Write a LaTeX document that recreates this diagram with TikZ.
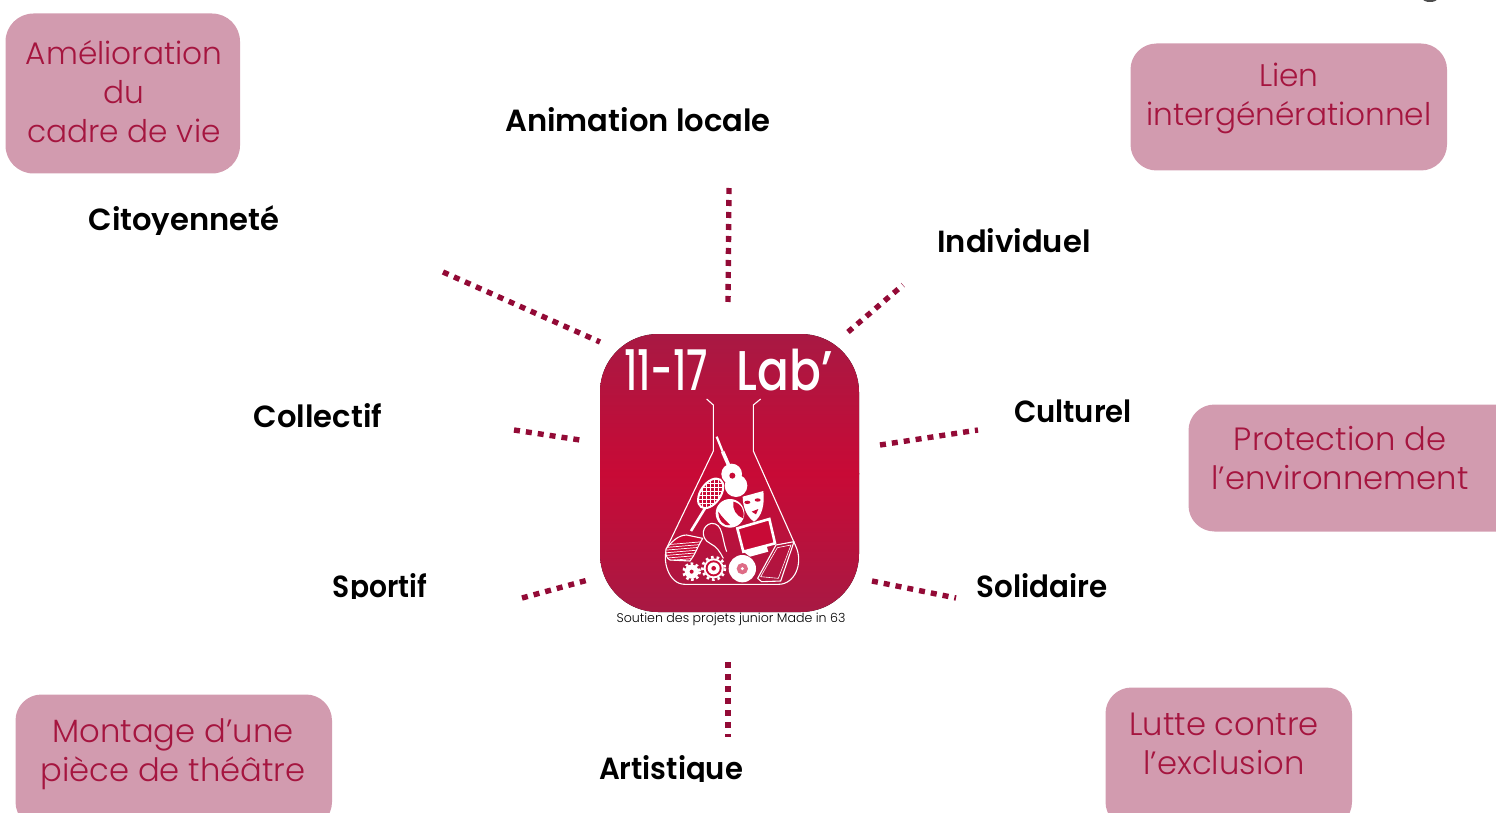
\documentclass[tikz,border=0pt]{standalone}
\usepackage{fontspec}
\setmainfont{Poppins}
\newfontfamily\boldf{Poppins}[UprightFont=* SemiBold]
\newfontfamily\lightf{Poppins}[UprightFont=* Light]
\newfontfamily\medf{Poppins}[UprightFont=* Medium]
\definecolor{pinkbox}{HTML}{D29BAF}
\definecolor{pinktxt}{HTML}{A5153F}
\definecolor{dotc}{HTML}{930A36}
\definecolor{logotop}{HTML}{A61A44}
\definecolor{logomid}{HTML}{C80A36}
\tikzset{
 x=0.5pt,y=-0.5pt,
 boxr/.style={fill=pinkbox,draw=none},
 boxt/.style={text=pinktxt,align=center,inner sep=0pt,font=\lightf\fontsize{15.6}{19.5}\selectfont},
 boxtb/.style={text=pinktxt,align=center,inner sep=0pt,font=\lightf\fontsize{16.1}{19.5}\selectfont},
 lab/.style={inner sep=0pt,anchor=base,font=\boldf\fontsize{15.3}{19}\selectfont},
 dots/.style={dotc,line width=2.7pt,dash pattern=on 3pt off 3pt},
 wl/.style={white,line width=0.55pt},
 wf/.style={fill=white,draw=none},
}
\begin{document}
\begin{tikzpicture}
\useasboundingbox (0,0) rectangle (1496,813);
\clip (0,0) rectangle (1496,813);
% boxes
\fill[boxr,rounded corners=14pt] (5.5,13.5) rectangle (240,173.5);
\fill[boxr,rounded corners=13pt] (1130.5,43.5) rectangle (1447,170.5);
\fill[boxr,rounded corners=13pt] (1188.5,404.5) rectangle (1540,531.5);
\fill[boxr,rounded corners=13pt] (15.5,694.5) rectangle (332,828);
\fill[boxr,rounded corners=13pt] (1105.5,687.5) rectangle (1352,828);
\node[boxt] (t1) at (124,92) {Amélioration\\du\\cadre de vie};
\node[boxt] (t2) at (1289,98) {Lien\\intergénérationnel};
\node[boxtb] (t3) at (1340,458) {Protection de\\l’environnement};
\node[boxtb] (t4) at (173,754) {Montage d’une\\pièce de théâtre};
\node[boxtb] (t5) at (1224,744) {Lutte contre\\l’exclusion};
% labels
\node[lab] (animation) at (638,132) {Animation locale};
\node[lab] (individuel) at (1014,253) {Individuel};
\node[lab,xscale=.95] (culturel) at (1073,422) {Culturel};
\node[lab,xscale=.96] (solidaire) at (1042,597) {Solidaire};
\node[lab] (collectif) at (318,427) {Collectif};
\begin{scope}
\clip (60,190) rectangle (320,235);
\node[lab] (citoyen) at (184,231) {Citoyenneté};
\end{scope}
\begin{scope}
\clip (300,560) rectangle (460,598);
\node[lab,xscale=.92] (sportif) at (380,597) {Sportif};
\end{scope}
\begin{scope}
\clip (560,740) rectangle (780,781);
\node[lab,xscale=.95] (artistique) at (671,779) {Artistique};
\end{scope}
% dotted rays
\coordinate (u1) at (729,188); \coordinate (u2) at (728,302);
\coordinate (ul1) at (443,272); \coordinate (ul2) at (600,342);
\coordinate (ur1) at (848,332); \coordinate (ur2) at (903,285);
\coordinate (l1) at (514,430); \coordinate (l2) at (580,440);
\coordinate (r1) at (880,445); \coordinate (r2) at (978,430);
\coordinate (ll1) at (522,598); \coordinate (ll2) at (588,580);
\coordinate (lr1) at (872,581); \coordinate (lr2) at (956,598);
\coordinate (b1) at (728,662); \coordinate (b2) at (728,737);
\draw[dots] (u1)--(u2);
\draw[dots] (ul1)--(ul2);
\draw[dots] (ur1)--(ur2);
\draw[dots] (l1)--(l2);
\draw[dots] (r1)--(r2);
\draw[dots] (ll1)--(ll2);
\draw[dots] (lr1)--(lr2);
\draw[dots] (b1)--(b2);
% logo
\begin{scope}
 \clip[rounded corners=29pt] (600,334) rectangle (859,612);
 \fill[top color=logotop,bottom color=logomid,draw=none] (590,325) rectangle (870,474);
 \fill[top color=logomid,bottom color=logotop,draw=none] (590,473) rectangle (870,620);
\end{scope}
\node[white,inner sep=0pt,anchor=base west,xscale=.68,font=\medf\fontsize{28}{28}\selectfont] (logot) at (624,390) {11-17};
\node[white,inner sep=0pt,anchor=base west,xscale=.84,font=\medf\fontsize{28}{28}\selectfont] (logol) at (736,390) {Lab’};
\node[inner sep=0pt,anchor=base,font=\lightf\fontsize{6.3}{7}\selectfont] (sout) at (731,622) {Soutien des projets junior Made in 63};
\begin{scope}[shift={(590,325)},x=0.16667pt,y=-0.16667pt]
 % flask
 \draw[wl,line join=round] (350,222)--(370,240)--(370,378)--(232,665)
   .. controls (215,705) and (235,778) .. (285,778) -- (565,778)
   .. controls (615,778) and (640,715) .. (618,665) -- (490,378)--(490,240)--(512,222);
 % guitar
 \draw[white,line width=1.8pt] (398,380)--(420,430);
 \draw[white,line width=1.1pt] (380,335)--(398,380);
 \fill[wf] (425,447) circle[radius=31];
 \fill[wf] (438,482) circle[radius=34];
 \fill[logomid] (427,452) circle[radius=9];
 % racket
 \draw[white,line width=1.3pt] (303,618)--(345,550);
 \draw[white,line width=1pt,fill=logomid,rotate around={-35:(362,505)}] (362,505) ellipse[x radius=30,y radius=50];
 \begin{scope}
  \clip[rotate around={-35:(362,505)}] (362,505) ellipse[x radius=30,y radius=50];
  \foreach \k in {0,12,...,120} {\draw[white,line width=0.2pt] (300+\k,450)--(300+\k,570); \draw[white,line width=0.2pt] (310,450+\k)--(420,450+\k);}
 \end{scope}
 % globe
 \fill[wf] (420,565) circle[radius=43];
 \fill[logomid] (430,530) .. controls (455,535) and (465,560) .. (460,580) .. controls (440,575) and (425,550) .. (430,530);
 \fill[logomid] (385,560) .. controls (395,575) and (410,590) .. (420,600) .. controls (400,605) and (385,585) .. (385,560);
 % mask
 \fill[wf] (458,515)--(520,498) .. controls (525,540) and (515,575) .. (492,590) .. controls (470,575) and (458,545) .. (458,515);
 \fill[logomid] (472,532) ellipse[x radius=9,y radius=5];
 \fill[logomid] (503,525) ellipse[x radius=9,y radius=5];
 \fill[logomid] (485,560)--(505,552)--(498,568)--cycle;
 % monitor
 \draw[white,line width=1.3pt,fill=logomid] (442,610)--(538,582)--(555,655)--(460,680)--cycle;
 \fill[wf] (460,680)--(530,664)--(535,680)--(480,695)--cycle;
 % bulb
 \draw[wl,line join=round] (410,680) .. controls (395,640) and (400,595) .. (365,595) .. controls (335,600) and (330,640) .. (360,655) .. controls (380,665) and (390,680) .. (400,700);
 % book
 \draw[wl,line join=round,fill=logomid] (228,672) .. controls (245,650) and (265,630) .. (290,630) -- (338,640) .. controls (320,670) and (315,690) .. (300,708) -- (240,705) .. controls (228,700) and (226,685) .. (228,672);
 \begin{scope}
 \clip (228,672) .. controls (245,650) and (265,630) .. (290,630) -- (338,640) .. controls (320,670) and (315,690) .. (300,708) -- (240,705) .. controls (228,700) and (226,685) .. (228,672);
 \foreach \k in {660,668,...,708} \draw[white,line width=0.35pt] (220,\k)--(340,\k-10);
 \end{scope}
 % gears
 \fill[wf] (305,740) circle[radius=21];
 \draw[white,line width=1.3pt,dash pattern=on 1.3pt off 1.3pt] (305,740) circle[radius=24];
 \fill[logomid] (305,740) circle[radius=6];
 \fill[wf] (371,730) circle[radius=30];
 \fill[logomid] (371,730) circle[radius=24];
 \fill[wf] (371,730) circle[radius=18];
 \draw[white,line width=1.3pt,dash pattern=on 1.3pt off 1.5pt] (371,730) circle[radius=34];
 \fill[logomid] (371,730) circle[radius=7];
 % cd
 \fill[wf] (457,731) circle[radius=41];
 \fill[logomid!60!white] (457,731) circle[radius=17];
 \fill[white] (457,731) circle[radius=5];
 % tablet
 \draw[wl,line join=round] (503,760) -- (558,660) -- (612,650) -- (572,768) -- (515,770) -- cycle;
 \draw[white,line width=0.3pt] (512,755) -- (562,668) -- (603,660) -- (565,760) -- cycle;
\end{scope}
% top-right fragment
\fill[black!70] (1430,-1) ellipse[x radius=7,y radius=3];
\end{tikzpicture}
\end{document}
